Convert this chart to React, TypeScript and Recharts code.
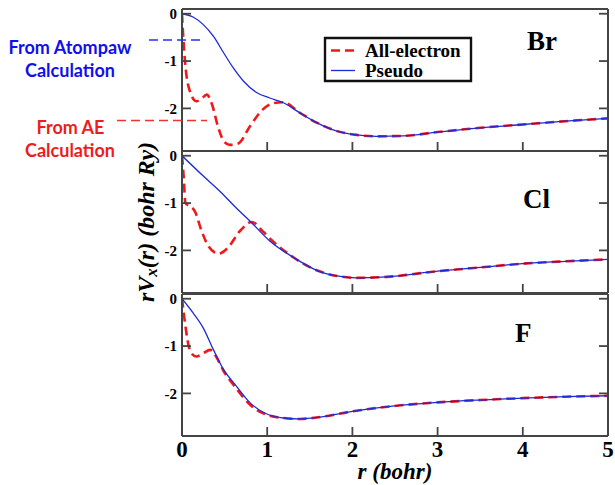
import { Line, LineChart, XAxis, YAxis } from 'recharts';

const W = 615;
const H = 485;
const PLOT_LEFT = 182;
const PLOT_RIGHT = 608;
const TICK = 9;
const GAP = 5;

const SERIF = '"Liberation Serif", "Times New Roman", serif';
const SANS = 'Lato, "Open Sans", sans-serif';
const FRAME = '#444';
const RED = '#f01818';
const BLUE = '#1c2ad8';

const xTicks = [0, 1, 2, 3, 4, 5];
const yTicks = [0, -1, -2];
const xDomain = [0, 5];
const yDomain = [-2.9, 0.1];

// Br
const brAeR = [0, 0.015, 0.035, 0.075, 0.17, 0.23, 0.29, 0.35, 0.42, 0.49, 0.56, 0.66, 0.8, 0.95, 1.07, 1.19, 1.38, 1.58, 1.82, 2.05, 2.28, 2.6, 3.0, 3.5, 4.0, 4.5, 5.0];
const brAeV = [0, -0.5, -1.0, -1.53, -1.85, -1.79, -1.71, -1.9, -2.37, -2.69, -2.77, -2.74, -2.37, -2.02, -1.89, -1.87, -2.09, -2.3, -2.48, -2.56, -2.59, -2.58, -2.5, -2.41, -2.34, -2.27, -2.21];
const brPsR = [0, 0.13, 0.25, 0.37, 0.49, 0.6, 0.72, 0.88, 1.03, 1.19, 1.38, 1.58, 1.82, 2.05, 2.28, 2.6, 3.0, 3.5, 4.0, 4.5, 5.0];
const brPsV = [0, -0.07, -0.23, -0.48, -0.83, -1.14, -1.42, -1.67, -1.78, -1.88, -2.09, -2.3, -2.48, -2.56, -2.59, -2.58, -2.5, -2.41, -2.34, -2.27, -2.21];

// Cl
const clAeR = [0, 0.02, 0.04, 0.094, 0.15, 0.23, 0.31, 0.43, 0.54, 0.68, 0.82, 0.95, 1.05, 1.31, 1.58, 1.82, 2.05, 2.4, 3.0, 3.5, 4.0, 4.5, 5.0];
const clAeV = [0, -0.45, -1.0, -1.07, -1.17, -1.59, -1.91, -2.07, -1.94, -1.59, -1.4, -1.6, -1.78, -2.15, -2.42, -2.54, -2.58, -2.56, -2.44, -2.36, -2.28, -2.23, -2.19];
const clPsR = [0, 0.25, 0.45, 0.64, 0.82, 1.03, 1.31, 1.58, 1.82, 2.05, 2.4, 3.0, 3.5, 4.0, 4.5, 5.0];
const clPsV = [0, -0.43, -0.76, -1.11, -1.42, -1.8, -2.15, -2.42, -2.54, -2.58, -2.56, -2.44, -2.36, -2.28, -2.23, -2.19];

// F
const fAeR = [0, 0.035, 0.075, 0.125, 0.17, 0.25, 0.33, 0.4, 0.48, 0.64, 0.8, 0.99, 1.19, 1.38, 1.62, 2.0, 2.52, 3.0, 3.5, 4.0, 4.5, 5.0];
const fAeV = [0, -0.51, -0.97, -1.18, -1.22, -1.15, -1.08, -1.22, -1.5, -1.9, -2.24, -2.45, -2.52, -2.54, -2.5, -2.38, -2.26, -2.19, -2.14, -2.1, -2.07, -2.05];
const fPsR = [0, 0.13, 0.25, 0.37, 0.48, 0.64, 0.8, 0.99, 1.19, 1.38, 1.62, 2.0, 2.52, 3.0, 3.5, 4.0, 4.5, 5.0];
const fPsV = [0, -0.3, -0.62, -1.08, -1.47, -1.85, -2.2, -2.43, -2.52, -2.54, -2.5, -2.38, -2.26, -2.19, -2.14, -2.1, -2.07, -2.05];

const toPts = (r: number[], v: number[]) => r.map((x, i) => ({ r: x, v: v[i] }));

const panels = [
  { name: 'Br', top: 9, bottom: 151, ae: toPts(brAeR, brAeV), ps: toPts(brPsR, brPsV), xLabels: false },
  { name: 'Cl', top: 151, bottom: 293, ae: toPts(clAeR, clAeV), ps: toPts(clPsR, clPsV), xLabels: false },
  { name: 'F', top: 294, bottom: 436, ae: toPts(fAeR, fAeV), ps: toPts(fPsR, fPsV), xLabels: true },
];

const frameLine = { stroke: FRAME, strokeWidth: 2 };

// ticks point inward, so they are drawn here instead of by tickLine
const LeftTick = (p: any) => (
  <g>
    <line x1={p.x + GAP} x2={p.x + GAP + TICK} y1={p.y} y2={p.y} stroke={FRAME} strokeWidth={1.8} />
    <text x={p.x} y={p.y} dy="0.35em" textAnchor="end" fontFamily={SERIF} fontWeight="bold" fontSize={15} fill="#000">
      {p.payload.value}
    </text>
  </g>
);

const RightTick = (p: any) => (
  <line x1={p.x - GAP - TICK} x2={p.x - GAP} y1={p.y} y2={p.y} stroke={FRAME} strokeWidth={1.8} />
);

const TopTick = (p: any) => (
  <line x1={p.x} x2={p.x} y1={p.y + GAP} y2={p.y + GAP + TICK} stroke={FRAME} strokeWidth={1.8} />
);

const BottomTick = (p: any) => (
  <g>
    <line x1={p.x} x2={p.x} y1={p.y - GAP - TICK} y2={p.y - GAP} stroke={FRAME} strokeWidth={1.8} />
    {p.labels && (
      <text x={p.x} y={p.y} dy={16} textAnchor="middle" fontFamily={SERIF} fontWeight="bold" fontSize={23} fill="#000">
        {p.payload.value}
      </text>
    )}
  </g>
);

function Panel({ top, bottom, ae, ps, xLabels }: any) {
  return (
    <div style={{ position: 'absolute', left: 0, top: 0 }}>
      <LineChart
        width={W}
        height={H}
        margin={{ top: top - 1, right: W - PLOT_RIGHT - 1, bottom: H - bottom - 1, left: PLOT_LEFT - 30 }}
      >
        <XAxis xAxisId="b" dataKey="r" type="number" domain={xDomain} ticks={xTicks} interval={0} allowDataOverflow height={1}
          tickSize={0} tickMargin={GAP} tickLine={false} axisLine={frameLine} tick={(p: any) => <BottomTick {...p} labels={xLabels} />} />
        <XAxis xAxisId="t" orientation="top" type="number" domain={xDomain} ticks={xTicks} interval={0} allowDataOverflow height={1}
          tickSize={0} tickMargin={GAP} tickLine={false} axisLine={frameLine} tick={TopTick} />
        <YAxis yAxisId="l" type="number" domain={yDomain} ticks={yTicks} interval={0} allowDataOverflow width={30}
          tickSize={0} tickMargin={GAP} tickLine={false} axisLine={frameLine} tick={LeftTick} />
        <YAxis yAxisId="r" orientation="right" type="number" domain={yDomain} ticks={yTicks} interval={0} allowDataOverflow width={1}
          tickSize={0} tickMargin={GAP} tickLine={false} axisLine={frameLine} tick={RightTick} />
        <Line xAxisId="b" yAxisId="l" data={ae} dataKey="v" name="All-electron" type="monotone" stroke={RED} strokeWidth={2.6}
          strokeDasharray="9 5" dot={false} isAnimationActive={false} />
        <Line xAxisId="b" yAxisId="l" data={ps} dataKey="v" name="Pseudo" type="monotone" stroke={BLUE} strokeWidth={1.3}
          dot={false} isAnimationActive={false} />
      </LineChart>
    </div>
  );
}

export default function App() {
  return (
    <div style={{ position: 'absolute', left: 0, top: 0, width: W, height: H, background: '#fff' }}>
      {panels.map((p) => (
        <Panel key={p.name} {...p} />
      ))}
      <svg width={W} height={H} style={{ position: 'absolute', left: 0, top: 0, pointerEvents: 'none' }}>
        {/* legend */}
        <g stroke="#111" strokeWidth={2.4}>
          <line x1={324} x2={472} y1={38} y2={38} />
          <line x1={324} x2={472} y1={81} y2={81} />
          <line x1={325} x2={325} y1={37} y2={82} />
          <line x1={471} x2={471} y1={37} y2={82} />
        </g>
        <line x1={331} x2={355} y1={50.5} y2={50.5} stroke={RED} strokeWidth={2.6} strokeDasharray="9 5" />
        <line x1={331} x2={355} y1={70.5} y2={70.5} stroke={BLUE} strokeWidth={1.3} />
        <g fontFamily={SERIF} fontWeight="bold" fontSize={19} fill="#000">
          <text x={365} y={57}>All-electron</text>
          <text x={365} y={77}>Pseudo</text>
        </g>
        <g fontFamily={SERIF} fontWeight="bold" fontSize={27} fill="#000">
          <text x={527} y={49.5}>Br</text>
          <text x={523} y={208}>Cl</text>
          <text x={515} y={342}>F</text>
        </g>
        <text x={395} y={479} textAnchor="middle" fontFamily={SERIF} fontWeight="bold" fontStyle="italic" fontSize={23}>
          r (bohr)
        </text>
        <text x={146} y={222} transform="rotate(-90 146 222)" textAnchor="middle" dominantBaseline="central"
          fontFamily={SERIF} fontWeight="bold" fontStyle="italic" fontSize={24}>
          <tspan>rV</tspan>
          <tspan fontSize={17} dy={5}>x</tspan>
          <tspan dy={-5}>(r) (bohr Ry)</tspan>
        </text>
        <g fontFamily={SANS} fontWeight="bold" fontSize={18} textAnchor="middle">
          <text x={70} y={53.5} fill="#1010ee">From Atompaw</text>
          <text x={70} y={77} fill="#1010ee">Calculation</text>
          <text x={70.5} y={133.5} fill="#ee1c1c">From AE</text>
          <text x={70} y={156.5} fill="#ee1c1c">Calculation</text>
        </g>
        <line x1={149} x2={202} y1={40} y2={40} stroke="#2233ee" strokeWidth={1.5} strokeDasharray="9 5" />
        <line x1={117} x2={207} y1={120.5} y2={120.5} stroke="#ee3333" strokeWidth={1.5} strokeDasharray="9 5" />
      </svg>
    </div>
  );
}
